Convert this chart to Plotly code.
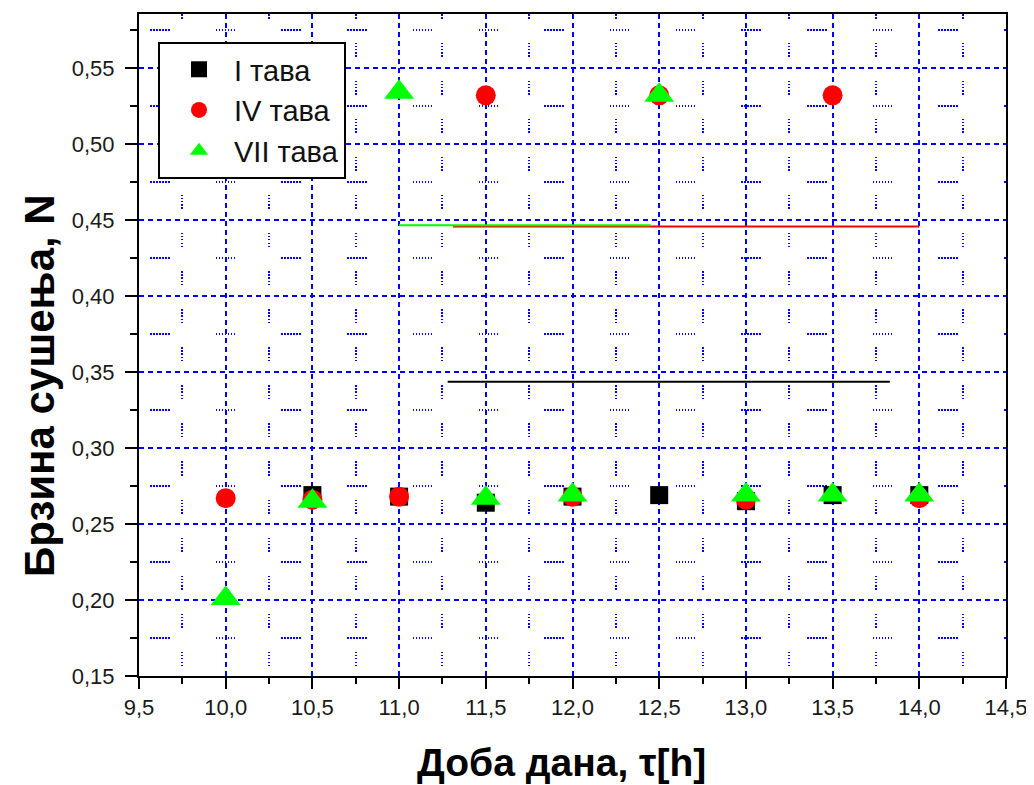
import plotly.graph_objects as go

# ---- data ----
x_I = [10.5, 11.0, 11.5, 12.0, 12.5, 13.0, 13.5, 14.0]
y_I = [0.269, 0.268, 0.264, 0.268, 0.269, 0.265, 0.269, 0.269]

x_IV = [10.0, 10.5, 11.0, 11.5, 12.0, 12.5, 13.0, 13.5, 14.0]
y_IV = [0.267, 0.266, 0.268, 0.532, 0.268, 0.532, 0.266, 0.532, 0.267]

x_VII = [10.0, 10.5, 11.0, 11.5, 12.0, 12.5, 13.0, 13.5, 14.0]
y_VII = [0.201, 0.265, 0.534, 0.267, 0.269, 0.532, 0.269, 0.269, 0.269]

# horizontal level lines (start x, end x, level)
line_I_x = [11.28, 13.83]
line_I_y = [0.3436, 0.3436]
line_IV_x = [11.31, 14.0]
line_IV_y = [0.4457, 0.4457]
line_VII_x = [11.0, 12.45]
line_VII_y = [0.4465, 0.4465]

names = ["I тава", "IV тава", "VII тава"]
x_title = "Доба дана, τ[h]"
y_title = "Брзина сушења, N"

FONT = "Liberation Sans, Arial, sans-serif"
BLUE = "#0000ff"

# page body has an 8px margin: figure starts at (8, 8)
OFF = 8
PL, PR, PT, PB = 139, 1006, 12, 676   # plot area in page pixels
PW, PH = PR - PL, PB - PT


def px_x(px):
    return (px - PL) / PW


def px_y(py):
    return (PB - py) / PH


fig = go.Figure()

fig.add_trace(go.Scatter(x=line_I_x, y=line_I_y, mode="lines",
                         line=dict(color="black", width=2), showlegend=False, hoverinfo="skip"))
fig.add_trace(go.Scatter(x=line_IV_x, y=line_IV_y, mode="lines",
                         line=dict(color="#ff0000", width=2), showlegend=False, hoverinfo="skip"))
fig.add_trace(go.Scatter(x=line_VII_x, y=line_VII_y, mode="lines",
                         line=dict(color="#00ff00", width=2), showlegend=False, hoverinfo="skip"))

fig.add_trace(go.Scatter(x=x_I, y=y_I, mode="markers", name=names[0],
                         marker=dict(symbol="square", size=18, color="black")))
fig.add_trace(go.Scatter(x=x_IV, y=y_IV, mode="markers", name=names[1],
                         marker=dict(symbol="circle", size=20, color="#ff0000")))
fig.add_trace(go.Scatter(x=x_VII, y=y_VII, mode="markers", name=names[2],
                         marker=dict(symbol="triangle-up", size=26, color="#00ff00")))

vminor_dash = "1.5px,1.5px,1.5px,24px,1.5px,1.5px,1.5px,1.5px,1.5px,2.09px"
hminor_dash = "0px,11px," + ",".join(["1.5px,1.5px"] * 6) + ",1.5px,35.2px"

fig.update_layout(
    width=1034 - OFF, height=785 - OFF,
    margin=dict(l=PL - OFF, r=1034 - PR, t=PT - OFF, b=785 - PB),
    paper_bgcolor="white", plot_bgcolor="white",
    separators=",.",
    font=dict(family=FONT, color="#1a1a1a", size=22),
    showlegend=True,
    legend=dict(
        x=px_x(158), y=px_y(40), xanchor="left", yanchor="top",
        bgcolor="white", bordercolor="black", borderwidth=2,
        font=dict(family=FONT, size=29, color="#111"),
        itemsizing="trace", itemwidth=60, indentation=4,
    ),
    xaxis=dict(
        range=[9.5, 14.5], tick0=9.5, dtick=0.5, tickformat=".1f",
        showline=True, linecolor="black", linewidth=2, mirror=True,
        ticks="outside", ticklen=11, tickwidth=2, tickcolor="black",
        ticklabelstandoff=0,
        showgrid=True, gridcolor=BLUE, gridwidth=1.7, griddash="5px,4px",
        zeroline=False,
        tickfont=dict(size=22, color="#1a1a1a"),
        minor=dict(dtick=0.25, tick0=9.5, ticks="outside", ticklen=6, tickwidth=2,
                   tickcolor="black", showgrid=True, gridcolor=BLUE, gridwidth=1.5,
                   griddash=vminor_dash),
    ),
    yaxis=dict(
        range=[0.15, 0.5855], tick0=0.15, dtick=0.05, tickformat=".2f",
        showline=True, linecolor="black", linewidth=2, mirror=True,
        ticks="outside", ticklen=12, tickwidth=2, tickcolor="black",
        ticklabelstandoff=6,
        showgrid=True, gridcolor=BLUE, gridwidth=1.7, griddash="5px,4px",
        zeroline=False,
        tickfont=dict(size=22, color="#1a1a1a"),
        minor=dict(dtick=0.025, tick0=0.15, ticks="outside", ticklen=7, tickwidth=2,
                   tickcolor="black", showgrid=True, gridcolor=BLUE, gridwidth=1.5,
                   griddash=hminor_dash),
    ),
    annotations=[
        dict(text="<b>" + x_title + "</b>", xref="paper", yref="paper",
             x=px_x(561), y=px_y(763), xanchor="center", yanchor="middle",
             showarrow=False, font=dict(family=FONT, size=39, color="black")),
        dict(text="<b>" + y_title + "</b>", xref="paper", yref="paper",
             x=px_x(40), y=px_y(385), xanchor="center", yanchor="middle",
             textangle=-90, showarrow=False, font=dict(family=FONT, size=42, color="black")),
    ],
)

fig.write_html("out.html")
